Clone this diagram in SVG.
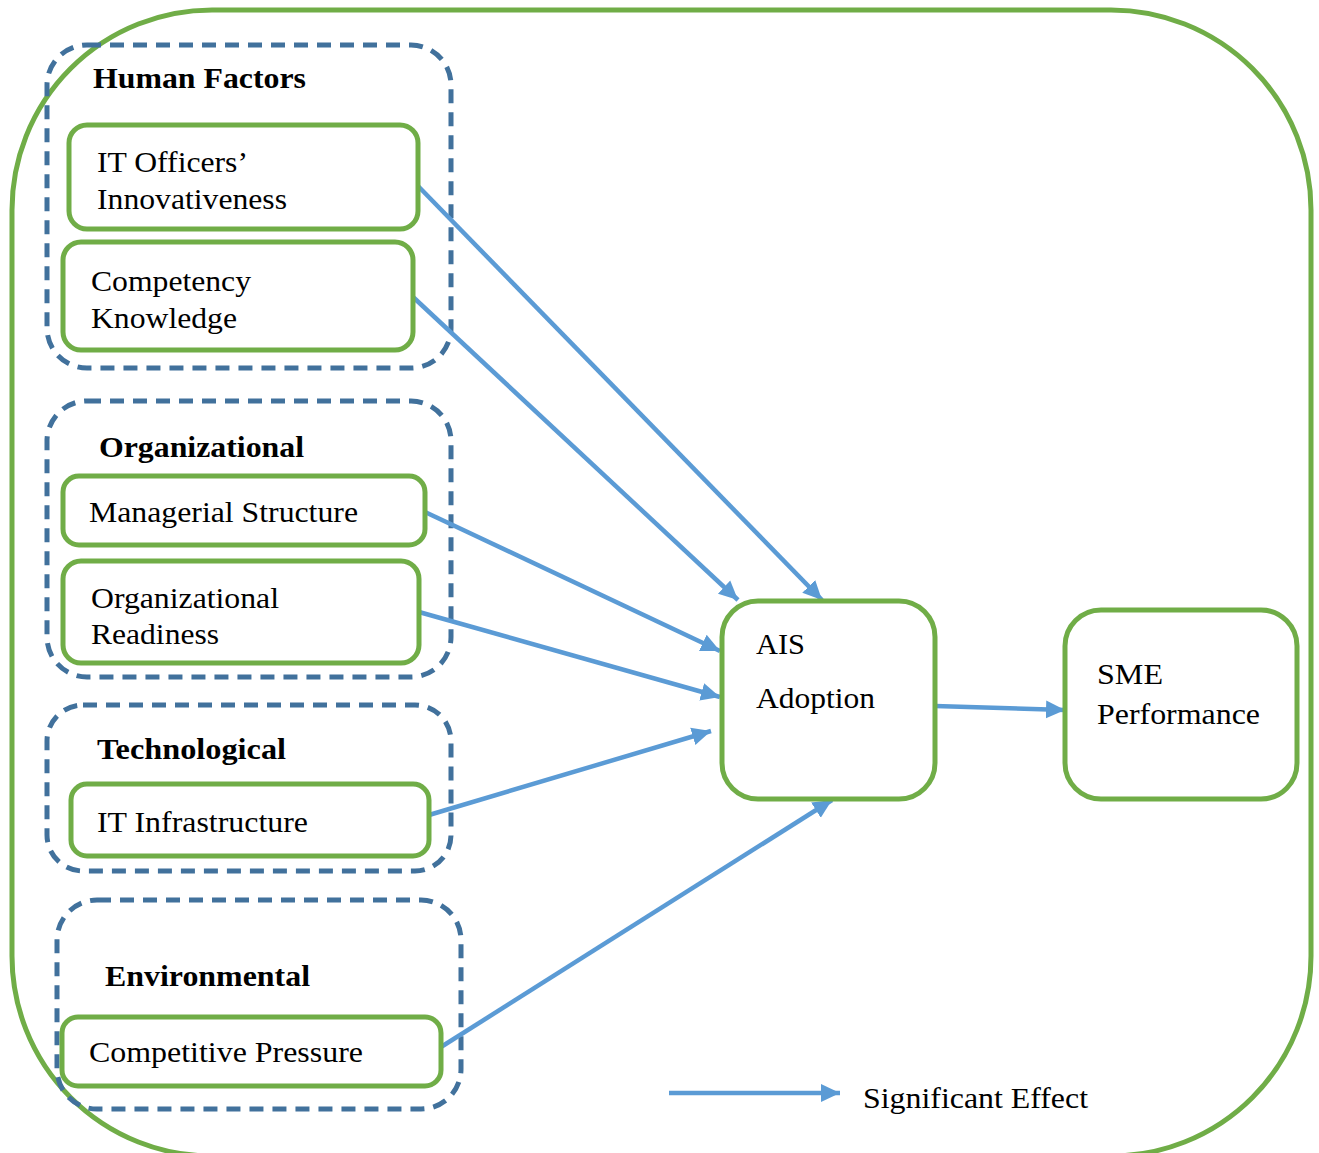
<svg xmlns="http://www.w3.org/2000/svg" width="1319" height="1153" viewBox="0 0 1319 1153">
<style>
.outer{fill:none;stroke:#70AD47;stroke-width:5}
.grp{fill:none;stroke:#41719C;stroke-width:5;stroke-dasharray:14 9}
.box{fill:#fff;stroke:#70AD47;stroke-width:5}
.t{font-family:"Liberation Serif","Times New Roman",serif;font-size:29px;fill:#000}
.h{font-family:"Liberation Serif","Times New Roman",serif;font-size:30px;font-weight:bold;fill:#000}
.c{stroke:#5B9BD5;stroke-width:4.5;fill:none;marker-end:url(#ah)}
</style>
<defs>
<marker id="ah" markerUnits="userSpaceOnUse" markerWidth="20" markerHeight="20" refX="19" refY="10" orient="auto">
<path d="M0,1 L19,10 L0,19 z" fill="#5B9BD5"/>
</marker>
</defs>
<rect width="1319" height="1153" fill="#fff"/>
<rect class="outer" x="12" y="10" width="1299" height="1146" rx="200" ry="200"/>

<g id="grp-human">
<rect class="grp" x="47" y="45" width="404" height="323" rx="40"/>
<text class="h" x="93" y="88" textLength="213" lengthAdjust="spacingAndGlyphs">Human Factors</text>
</g>
<g id="grp-org">
<rect class="grp" x="47" y="401" width="404" height="276" rx="40"/>
<text class="h" x="99" y="457" textLength="205" lengthAdjust="spacingAndGlyphs">Organizational</text>
</g>
<g id="grp-tech">
<rect class="grp" x="47" y="705" width="404" height="166" rx="36"/>
<text class="h" x="97" y="759" textLength="189" lengthAdjust="spacingAndGlyphs">Technological</text>
</g>
<g id="grp-env">
<rect class="grp" x="57" y="900" width="404" height="209" rx="40"/>
<text class="h" x="105" y="986" textLength="205" lengthAdjust="spacingAndGlyphs">Environmental</text>
</g>

<g id="connectors">
<line class="c" x1="418" y1="186" x2="822" y2="600"/>
<line class="c" x1="413" y1="297" x2="738" y2="600"/>
<line class="c" x1="425" y1="512" x2="720" y2="651"/>
<line class="c" x1="419" y1="612" x2="720" y2="697"/>
<line class="c" x1="429" y1="815" x2="711" y2="731"/>
<line class="c" x1="441" y1="1047" x2="832" y2="800"/>
<line class="c" x1="935" y1="706" x2="1065" y2="710"/>
<line class="c" x1="669" y1="1093" x2="840" y2="1093"/>
</g>

<g id="n-ito">
<rect class="box" x="69" y="125" width="349" height="104" rx="18"/>
<text class="t" x="97" y="172" textLength="151" lengthAdjust="spacingAndGlyphs">IT Officers’</text>
<text class="t" x="97" y="209" textLength="190" lengthAdjust="spacingAndGlyphs">Innovativeness</text>
</g>
<g id="n-comp">
<rect class="box" x="63" y="242" width="350" height="108" rx="18"/>
<text class="t" x="91" y="291" textLength="160" lengthAdjust="spacingAndGlyphs">Competency</text>
<text class="t" x="91" y="328" textLength="146" lengthAdjust="spacingAndGlyphs">Knowledge</text>
</g>
<g id="n-mgr">
<rect class="box" x="63" y="476" width="362" height="69" rx="16"/>
<text class="t" x="89" y="522" textLength="269" lengthAdjust="spacingAndGlyphs">Managerial Structure</text>
</g>
<g id="n-ready">
<rect class="box" x="63" y="561" width="356" height="102" rx="18"/>
<text class="t" x="91" y="608" textLength="188" lengthAdjust="spacingAndGlyphs">Organizational</text>
<text class="t" x="91" y="644" textLength="128" lengthAdjust="spacingAndGlyphs">Readiness</text>
</g>
<g id="n-infra">
<rect class="box" x="71" y="784" width="358" height="72" rx="16"/>
<text class="t" x="97" y="832" textLength="211" lengthAdjust="spacingAndGlyphs">IT Infrastructure</text>
</g>
<g id="n-press">
<rect class="box" x="62" y="1017" width="379" height="69" rx="16"/>
<text class="t" x="89" y="1062" textLength="274" lengthAdjust="spacingAndGlyphs">Competitive Pressure</text>
</g>
<g id="n-ais">
<rect class="box" x="722" y="601" width="213" height="198" rx="36"/>
<text class="t" x="756" y="654" textLength="49" lengthAdjust="spacingAndGlyphs">AIS</text>
<text class="t" x="756" y="708" textLength="119" lengthAdjust="spacingAndGlyphs">Adoption</text>
</g>
<g id="n-sme">
<rect class="box" x="1065" y="610" width="232" height="189" rx="36"/>
<text class="t" x="1097" y="684" textLength="66" lengthAdjust="spacingAndGlyphs">SME</text>
<text class="t" x="1097" y="724" textLength="163" lengthAdjust="spacingAndGlyphs">Performance</text>
</g>
<g id="legend">
<text class="t" x="863" y="1108" textLength="225" lengthAdjust="spacingAndGlyphs">Significant Effect</text>
</g>
</svg>
